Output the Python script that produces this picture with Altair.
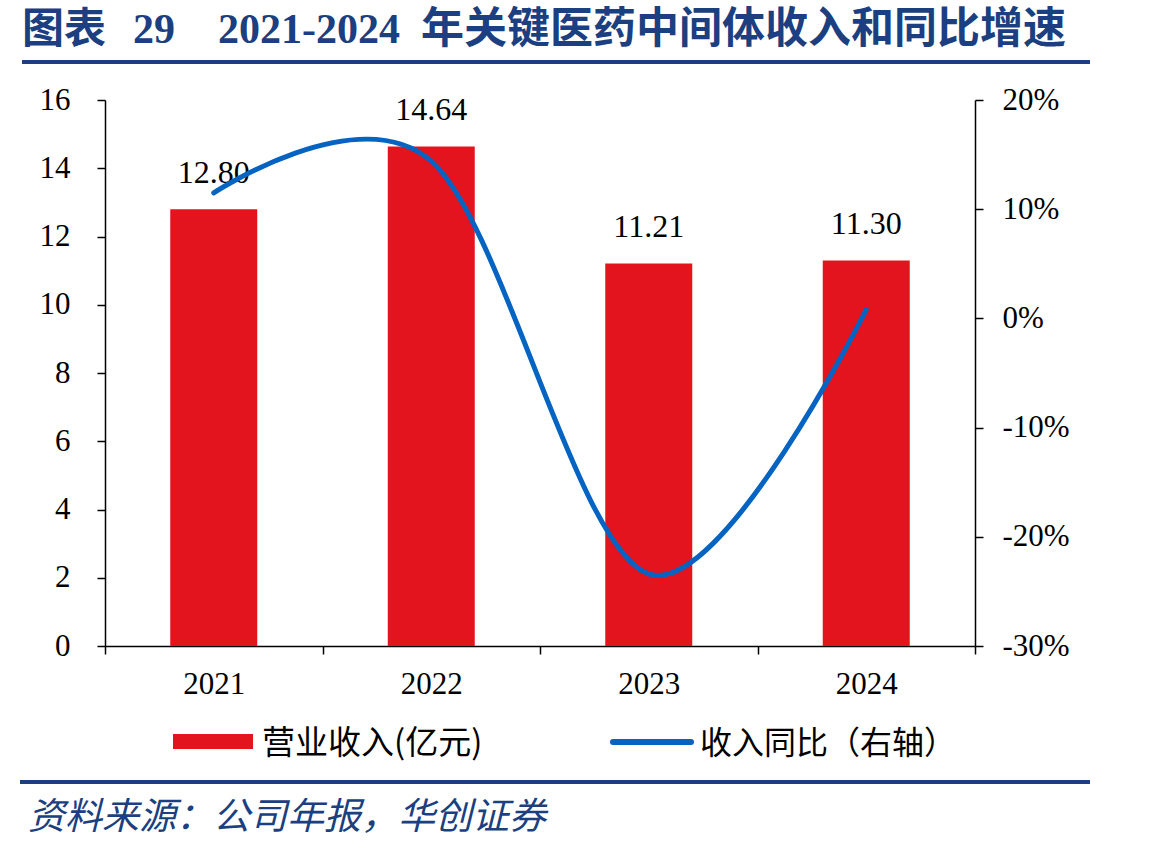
import altair as alt
import pandas as pd

# Revenue (100M CNY) and year-over-year growth, 2021-2024
years = ["2021", "2022", "2023", "2024"]
revenue = [12.80, 14.64, 11.21, 11.30]
yoy = [0.115, 0.144, -0.234, 0.008]

rev_ticks = [0, 2, 4, 6, 8, 10, 12, 14, 16]
yoy_ticks = [-0.3, -0.2, -0.1, 0.0, 0.1, 0.2]

title_label = "图表"
title_no = "29"
title_years = "2021-2024"
title_text = "年关键医药中间体收入和同比增速"
legend_bar = "营业收入(亿元)"
legend_line = "收入同比（右轴）"
source_text = "资料来源：公司年报，华创证券"

RED = "#E3141D"
BLUE = "#0563C1"
NAVY = "#1B3F80"
SERIF = "Liberation Serif"
CJK = "Noto Sans CJK SC"

df = pd.DataFrame({"year": years, "revenue": revenue, "yoy": yoy})

# bands fill the axis so the ticks fall between years; bars use 40% of a band
x_enc = alt.X(
    "year:N",
    sort=years,
    scale=alt.Scale(paddingInner=0, paddingOuter=0),
    axis=alt.Axis(title=None, labelAngle=0, tickBand="extent", labelFontSize=31,
                  labelPadding=15, tickSize=8),
)

rev_scale = alt.Scale(domain=[0, 16], nice=False, zero=True)

bars = alt.Chart(df).mark_bar(color=RED, width=alt.RelativeBandSize(0.4)).encode(
    x=x_enc,
    y=alt.Y("revenue:Q", scale=rev_scale,
            axis=alt.Axis(title=None, orient="left", values=rev_ticks, labelFontSize=31,
                          labelPadding=27, tickSize=8)),
)

labels = alt.Chart(df).mark_text(
    baseline="alphabetic", dy=-26, font=SERIF, fontSize=32, color="black"
).encode(
    x=alt.X("year:N", sort=years),
    y=alt.Y("revenue:Q", scale=rev_scale, axis=None),
    text=alt.Text("revenue:Q", format=".2f"),
)

line = alt.Chart(df).mark_line(
    color=BLUE, strokeWidth=5, interpolate="cardinal", strokeCap="round"
).encode(
    x=alt.X("year:N", sort=years),
    y=alt.Y("yoy:Q", scale=alt.Scale(domain=[-0.3, 0.2], nice=False, zero=False),
            axis=alt.Axis(title=None, orient="right", values=yoy_ticks, labelFontSize=31,
                          labelPadding=19, tickSize=8,
                          labelExpr="(datum.value < -0.0001 ? '-' : '') + round(abs(datum.value) * 100) + '%'")),
)


def text_layer(txt, x, y, size, font, color, weight="normal", style="normal", baseline="alphabetic"):
    return alt.Chart(pd.DataFrame({"t": [txt]})).mark_text(
        align="left", baseline=baseline, font=font, fontSize=size, color=color,
        fontWeight=weight, fontStyle=style,
    ).encode(text="t:N", x=alt.value(x), y=alt.value(y))


def hrule(x1, x2, y, width, color):
    return alt.Chart(pd.DataFrame({"k": [0]})).mark_rule(
        color=color, strokeWidth=width
    ).encode(x=alt.value(x1), x2=alt.value(x2), y=alt.value(y))


# heading, separators, legend and source note (positions relative to plot origin)
heading = [
    text_layer(title_label, -83, -57, 42, CJK, NAVY, weight="bold"),
    text_layer(title_no, 28, -57, 42, SERIF, NAVY, weight="bold"),
    text_layer(title_years, 113, -57, 42, SERIF, NAVY, weight="bold"),
    text_layer(title_text, 316, -57, 43, CJK, NAVY, weight="bold"),
]
rules = [hrule(-83, 985, -38, 4, NAVY), hrule(-85, 985, 682, 4, NAVY)]

legend_swatch = alt.Chart(pd.DataFrame({"k": [0]})).mark_rect(color=RED).encode(
    x=alt.value(68), x2=alt.value(148), y=alt.value(634), y2=alt.value(649)
)
legend_stroke = alt.Chart(pd.DataFrame({"k": [0]})).mark_rule(
    color=BLUE, strokeWidth=6, strokeCap="round"
).encode(x=alt.value(508), x2=alt.value(586), y=alt.value(642))

legend = [
    legend_swatch,
    text_layer(legend_bar, 157, 644, 33, CJK, "black", baseline="middle"),
    legend_stroke,
    text_layer(legend_line, 595, 644, 32, CJK, "black", baseline="middle"),
]

source = text_layer(source_text, -77, 729, 37, CJK, NAVY, style="italic")

chart = alt.layer(
    bars, labels, line, *heading, *rules, *legend, source
).resolve_scale(
    y="independent"
).properties(
    width=870,
    height=546,
    autosize=alt.AutoSizeParams(type="none"),
    padding={"left": 105, "top": 100, "right": 174, "bottom": 203},
    background="white",
).configure_axis(
    grid=False,
    domainColor="black",
    domainWidth=1.5,
    tickColor="black",
    tickWidth=1.5,
    labelColor="black",
    labelFont=SERIF,
).configure_view(stroke=None)

chart.save("out.html", embed_options={"renderer": "svg", "actions": False})
